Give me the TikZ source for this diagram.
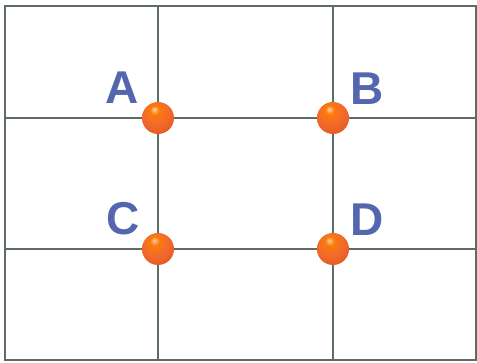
\documentclass[tikz,border=0pt]{standalone}
\usepackage{fontspec}
\setmainfont{Liberation Sans}
\usetikzlibrary{positioning}
\definecolor{gridgray}{HTML}{5E6B66}
\definecolor{lblblue}{HTML}{5466AE}
\definecolor{dotorange}{HTML}{F26A2C}
\definecolor{dotedge}{HTML}{E0501E}
\pgfdeclareradialshading{orangeball}{\pgfpoint{-6bp}{14bp}}{%
  color(0bp)=(orange!35!white); color(7bp)=(orange!75!dotorange);
  color(20bp)=(dotorange); color(40bp)=(dotedge); color(60bp)=(dotedge)}
\tikzset{
  gridline/.style={draw=gridgray, line width=1.8pt},
  dot/.style={circle, inner sep=0pt, minimum size=32pt, shading=orangeball},
  lbl/.style={inner sep=0pt, text=lblblue, font=\fontsize{46}{46}\selectfont\bfseries}
}
\begin{document}
\begin{tikzpicture}[x=1pt, y=-1pt]
\useasboundingbox (0,0) rectangle (477,363);
% =================== frame and grid ===================
\draw[gridline] (5,6) rectangle (476,360);
\foreach \x in {158,333}{
  \draw[gridline] (\x,6) -- (\x,360);
}
\foreach \y in {118,249}{
  \draw[gridline] (5,\y) -- (476,\y);
}
% =================== points ===================
\node[dot] (A) at (158,118) {};
\node[dot] (B) at (333,118) {};
\node[dot] (C) at (158,249) {};
\node[dot] (D) at (333,249) {};
% labels
\node[lbl, above left=3pt and 8pt of A.north west] (lA) {A};
\node[lbl, above right=2pt and 6pt of B.north east] (lB) {B};
\node[lbl, above left=2pt and 7pt of C.north west] (lC) {C};
\node[lbl, above right=2pt and 6pt of D.north east] (lD) {D};
\end{tikzpicture}
\end{document}
